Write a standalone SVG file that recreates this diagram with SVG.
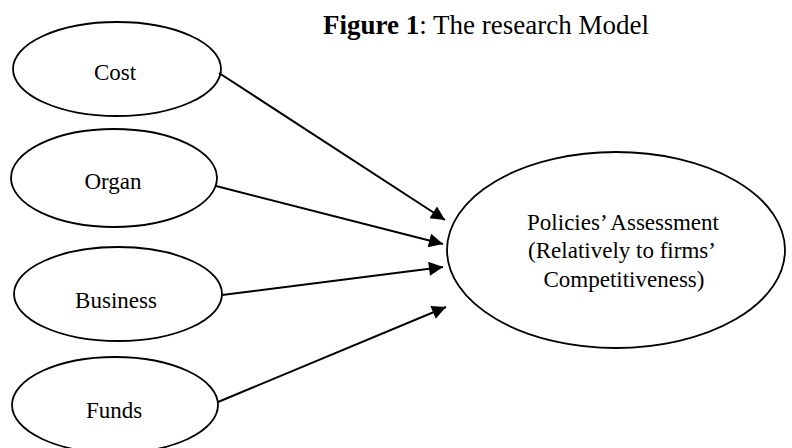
<svg xmlns="http://www.w3.org/2000/svg" width="792" height="448" viewBox="0 0 792 448">
<defs>
<style>
.node ellipse{fill:#fff;stroke:#000;stroke-width:1.8}
.lbl{font-family:"Liberation Serif","Times New Roman",serif;font-size:23px;fill:#000;text-anchor:middle}
.title{font-family:"Liberation Serif","Times New Roman",serif;font-size:27px;fill:#000;text-anchor:middle}
.edge{stroke:#000;stroke-width:2;fill:none;marker-end:url(#ah)}
</style>
<marker id="ah" viewBox="0 0 10 10" refX="10" refY="5" markerWidth="8" markerHeight="7" markerUnits="strokeWidth" orient="auto">
<path d="M0,0 L10,5 L0,10 z" fill="#000"/>
</marker>
</defs>
<rect width="792" height="448" fill="#fff"/>
<text class="title" x="486" y="34"><tspan font-weight="bold">Figure 1</tspan>: The research Model</text>
<g id="cost" class="node"><ellipse cx="117" cy="69" rx="104" ry="47"/><text class="lbl" x="115" y="80">Cost</text></g>
<g id="organ" class="node"><ellipse cx="114" cy="178" rx="103" ry="49"/><text class="lbl" x="113" y="189">Organ</text></g>
<g id="business" class="node"><ellipse cx="118" cy="294" rx="104" ry="47"/><text class="lbl" x="116" y="308">Business</text></g>
<g id="funds" class="node"><ellipse cx="115" cy="405" rx="103" ry="48"/><text class="lbl" x="114" y="418">Funds</text></g>
<g id="policies" class="node"><ellipse cx="616" cy="250" rx="169" ry="98"/>
<text class="lbl" x="623" y="230">Policies’ Assessment</text>
<text class="lbl" x="622" y="258">(Relatively to firms’</text>
<text class="lbl" x="624" y="287">Competitiveness)</text></g>
<g id="connectors">
<line class="edge" x1="219" y1="73" x2="445" y2="220"/>
<line class="edge" x1="216" y1="186" x2="443" y2="244"/>
<line class="edge" x1="222" y1="295" x2="443" y2="267"/>
<line class="edge" x1="218" y1="402" x2="446" y2="307"/>
</g>
</svg>
